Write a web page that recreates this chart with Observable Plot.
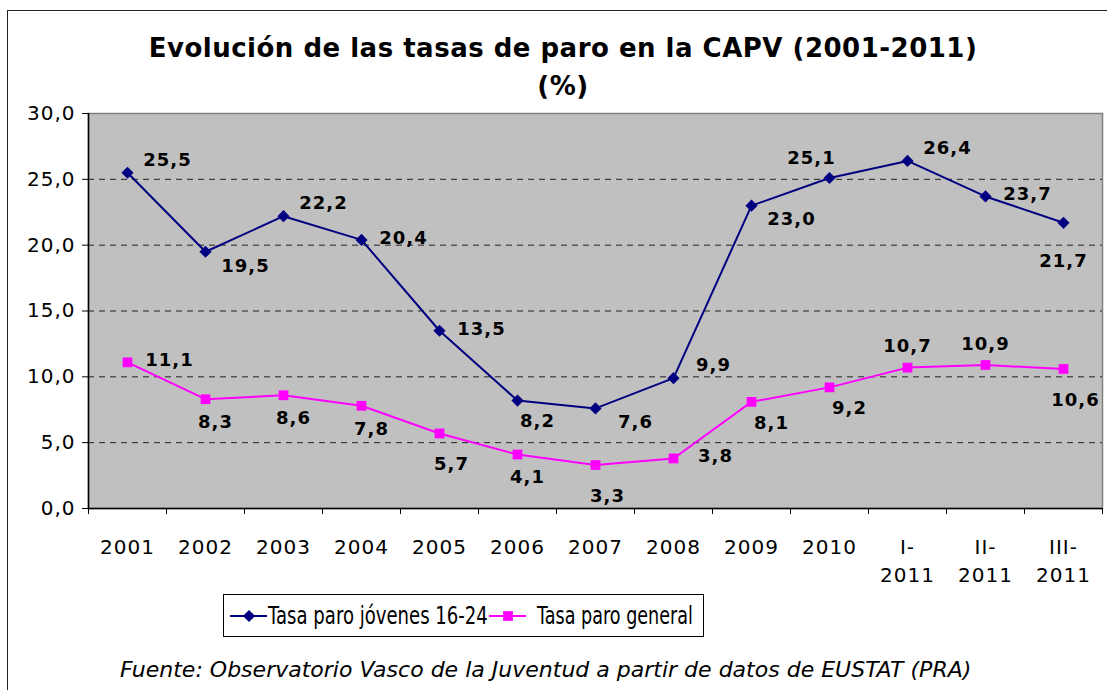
<!DOCTYPE html>
<html><head><meta charset="utf-8">
<script src="https://cdn.jsdelivr.net/npm/d3@7"></script>
<script src="https://cdn.jsdelivr.net/npm/@observablehq/plot@0.6"></script>
<style>
body{margin:0;background:#fff;width:1107px;height:690px;overflow:hidden;position:relative;font-family:"DejaVu Sans",Verdana,sans-serif;}
#border{position:absolute;left:7px;top:10px;width:1200px;height:800px;border:1.5px solid #222;box-sizing:border-box;}
#title{position:absolute;left:0;top:29px;width:1126px;text-align:center;font-weight:bold;font-size:26px;line-height:38px;letter-spacing:0.5px;color:#000;}
#chart{position:absolute;left:0;top:100px;}
#chart svg text{letter-spacing:1px;}
#bottom{position:absolute;left:0;top:585px;}
</style>
</head><body>
<div id="border"></div>
<div id="title">Evolución de las tasas de paro en la CAPV (2001-2011)<br>(%)</div>
<div id="chart"></div>
<div id="bottom"></div>
<script>
const categories = ["2001","2002","2003","2004","2005","2006","2007","2008","2009","2010","I-\n2011","II-\n2011","III-\n2011"];
const jovenes = [25.5,19.5,22.2,20.4,13.5,8.2,7.6,9.9,23.0,25.1,26.4,23.7,21.7];
const general = [11.1,8.3,8.6,7.8,5.7,4.1,3.3,3.8,8.1,9.2,10.7,10.9,10.6];
const yTicks = [0,5,10,15,20,25,30];
const seriesNames = ["Tasa paro jóvenes 16-24","Tasa paro general"];
const seriesColors = ["#000080","#FF00FF"];
const seriesSymbols = ["diamond2","square"];
const captionText = "Fuente: Observatorio Vasco de la Juventud a partir de datos de EUSTAT (PRA)";
// label placement codes (direction of each data label relative to its marker)
const jovenesLabelPlace = ["NE","SE","NE","E","E","SSE","SE","NE","SE","NW","NE","E","S2"];
const generalLabelPlace = ["E","S","S","S","SS","S","SS","E","SSE","SSE","N","N","SS"];
const placeOffsets = {E:[42,-2],NE:[40,-13],SE:[40,14],SSE:[20,21],S:[10,23],SS:[12,31],S2:[0,38],N:[0,-21],NW:[-18,-20]};

const fmt = v => v.toFixed(1).replace(".", ",");
const rows = [];
[jovenes, general].forEach((vals, s) => {
  const places = s === 0 ? jovenesLabelPlace : generalLabelPlace;
  vals.forEach((v, i) => rows.push({series: seriesNames[s], s, i, v, place: places[i]}));
});
const boundaries = d3.range(categories.length + 1).map(k => k - 0.5);
const gridLines = yTicks.filter(t => t > 0 && t < 30);

const marks = [
  Plot.frame({fill: "#C0C0C0", stroke: "#808080", strokeWidth: 1.5}),
  Plot.ruleY(gridLines, {stroke: "#222", strokeDasharray: "6,5", strokeWidth: 1}),
  Plot.ruleY([0], {stroke: "#000", strokeWidth: 1.5}),
  Plot.ruleX([-0.5], {stroke: "#000", strokeWidth: 1.5}),
  Plot.axisY({ticks: yTicks, tickFormat: fmt, tickSize: 6, tickPadding: 7, fontSize: 20, fill: "#000", stroke: "#000", label: null}),
  Plot.axisX({ticks: boundaries, tickFormat: () => "", tickSize: 6, stroke: "#000", label: null}),
  Plot.axisX({ticks: d3.range(categories.length), tickFormat: i => categories[i], tickSize: 0, tickPadding: 26, fontSize: 20, lineHeight: 1.4, fill: "#000", label: null})
];
[0, 1].forEach(s => {
  const d = rows.filter(r => r.s === s);
  marks.push(Plot.line(d, {x: "i", y: "v", stroke: seriesColors[s], strokeWidth: 2}));
  marks.push(Plot.dot(d, {x: "i", y: "v", symbol: seriesSymbols[s], fill: seriesColors[s], stroke: "none", r: 5.5}));
});
Object.entries(placeOffsets).forEach(([code, [dx, dy]]) => {
  const d = rows.filter(r => r.place === code);
  if (d.length) marks.push(Plot.text(d, {x: "i", y: "v", text: r => fmt(r.v), dx, dy, fontSize: 18, fontWeight: "bold", fill: "#000", textAnchor: "middle"}));
});

const chart = Plot.plot({
  width: 1107, height: 490,
  marginLeft: 88, marginRight: 5, marginTop: 13, marginBottom: 82,
  style: {fontFamily: "'DejaVu Sans', Verdana, sans-serif", background: "transparent", overflow: "visible"},
  x: {type: "linear", domain: [-0.5, categories.length - 0.5], axis: null},
  y: {domain: [0, 30], axis: null},
  marks
});
document.getElementById("chart").appendChild(chart);

// legend + caption (svg below the chart), condensed text via horizontal scaling
const bottom = d3.select("#bottom").append("svg").attr("width", 1107).attr("height", 105)
  .style("font-family", "'DejaVu Sans', sans-serif");
bottom.append("rect").attr("x", 223.5).attr("y", 9.5).attr("width", 480).attr("height", 42).attr("fill", "#fff").attr("stroke", "#000");
function condensed(x, y, width, size, italic, str) {
  const t = bottom.append("text").attr("font-size", size).attr("font-style", italic ? "italic" : null).text(str);
  const natural = t.node().getComputedTextLength();
  t.attr("transform", `translate(${x},${y}) scale(${width / natural},1)`);
}
const swX = [230, 489], txX = [268, 537], txW = [220, 156];
seriesNames.forEach((name, s) => {
  const g = bottom.append("g").attr("transform", `translate(${swX[s]},31)`);
  g.append("line").attr("x1", 0).attr("x2", 37).attr("stroke", seriesColors[s]).attr("stroke-width", 2);
  const sym = s === 0 ? d3.symbolDiamond2 : d3.symbolSquare;
  g.append("path").attr("d", d3.symbol(sym, Math.PI * 5.5 * 5.5)()).attr("transform", "translate(19,0)").attr("fill", seriesColors[s]);
  condensed(txX[s], 39, txW[s], 25, false, name);
});
condensed(120, 92, 852, 22, true, captionText);
</script>
</body></html>
